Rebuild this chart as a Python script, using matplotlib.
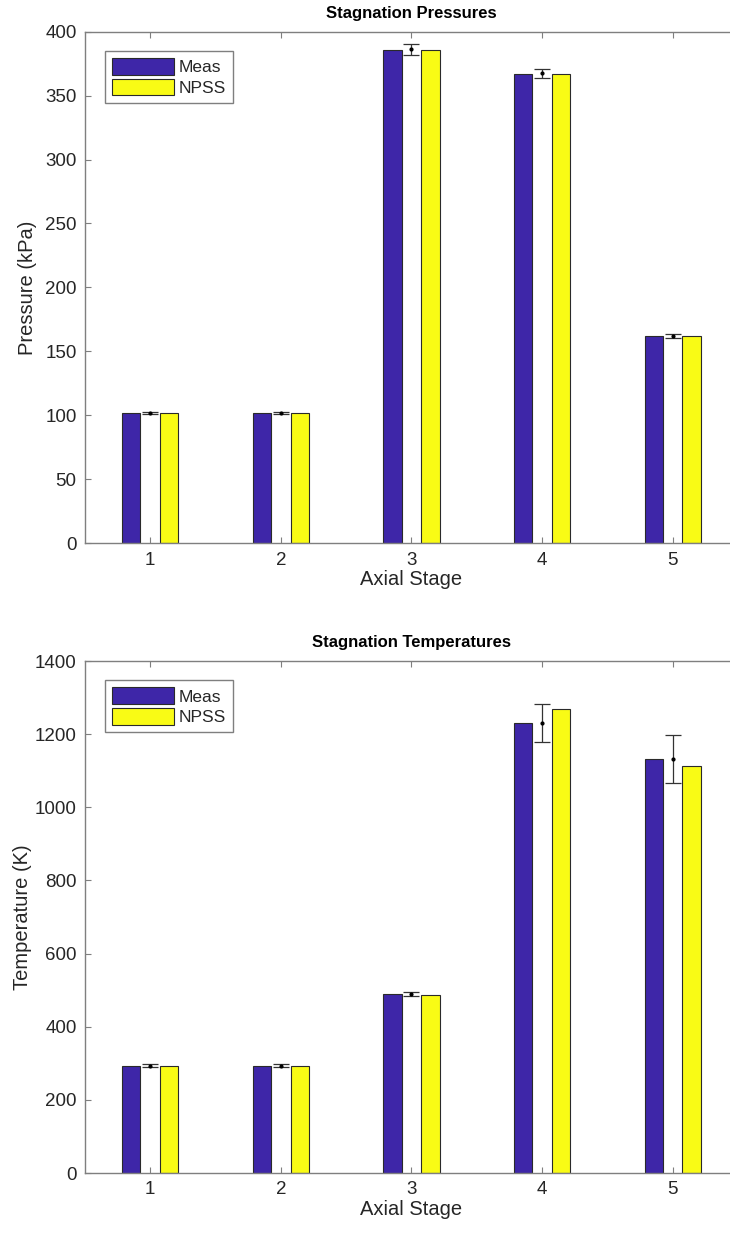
import matplotlib
matplotlib.use("Agg")
import matplotlib.pyplot as plt
import numpy as np

plt.rcParams['font.family'] = ['Liberation Sans', 'DejaVu Sans']

stages = [1, 2, 3, 4, 5]

# Stagnation pressures (kPa)
p_meas = [102, 102, 386, 367, 162]
p_npss = [102, 102, 386, 367, 162]
p_err_mean = [102, 102, 386.3, 367.5, 162]
p_err = [1.0, 1.0, 4.2, 3.5, 1.5]

# Stagnation temperatures (K)
t_meas = [294, 294, 490, 1230, 1133]
t_npss = [294, 294, 487, 1268, 1113]
t_err_mean = [294, 294, 490, 1230, 1133]
t_err = [4, 4, 6, 52, 66]

C_MEAS = '#3e26a8'
C_NPSS = '#f9fb15'
AX_GRAY = '#7f7f7f'
TXT = '#262626'

fig = plt.figure(figsize=(7.3, 12.4), dpi=100)


def panel(rect, meas, npss, emean, err, ylim, yticks, ylabel, title, ylpad):
    ax = fig.add_axes(rect)
    x = np.array(stages, dtype=float)
    w = 0.14
    off = 0.145
    b1 = ax.bar(x - off, meas, width=w, color=C_MEAS, edgecolor='#2a2a2a',
                linewidth=0.8, label='Meas', zorder=2)
    b2 = ax.bar(x + off, npss, width=w, color=C_NPSS, edgecolor='#2a2a2a',
                linewidth=0.8, label='NPSS', zorder=2)
    ax.errorbar(x, emean, yerr=err, fmt='.', color='black', ecolor='#333333',
                elinewidth=0.9, capsize=6, capthick=0.9, markersize=4, zorder=3)
    ax.set_xlim(0.5, 5.5)
    ax.set_ylim(*ylim)
    ax.set_xticks(stages)
    ax.set_yticks(yticks)
    ax.tick_params(direction='in', length=4, width=0.8, colors=AX_GRAY,
                   labelcolor=TXT, labelsize=13.5, top=True, right=True, pad=6)
    for s in ax.spines.values():
        s.set_color(AX_GRAY)
        s.set_linewidth(1.0)
    ax.set_xlabel('Axial Stage', fontsize=14.5, color=TXT, labelpad=1)
    ax.set_ylabel(ylabel, fontsize=14.5, color=TXT, labelpad=ylpad)
    ax.set_title(title, fontsize=12, fontweight='bold', color='black', pad=10)
    leg = ax.legend(handles=[b1, b2], loc='upper left',
                    bbox_to_anchor=(0.03, 0.962), fontsize=12.5,
                    handlelength=3.6, handleheight=1.1, handletextpad=0.25,
                    borderpad=0.4, labelspacing=0.2, fancybox=False,
                    framealpha=1, edgecolor=AX_GRAY, borderaxespad=0)
    leg.get_frame().set_linewidth(1.0)
    for t in leg.get_texts():
        t.set_color(TXT)
    return ax


panel([0.1164, 0.5619, 0.8945, 0.4126], p_meas, p_npss, p_err_mean, p_err,
      (0, 400), np.arange(0, 401, 50), 'Pressure (kPa)', 'Stagnation Pressures', 6)
panel([0.1164, 0.0540, 0.8945, 0.4129], t_meas, t_npss, t_err_mean, t_err,
      (0, 1400), np.arange(0, 1401, 200), 'Temperature (K)',
      'Stagnation Temperatures', 2)

fig.savefig('out.png', dpi=100)
